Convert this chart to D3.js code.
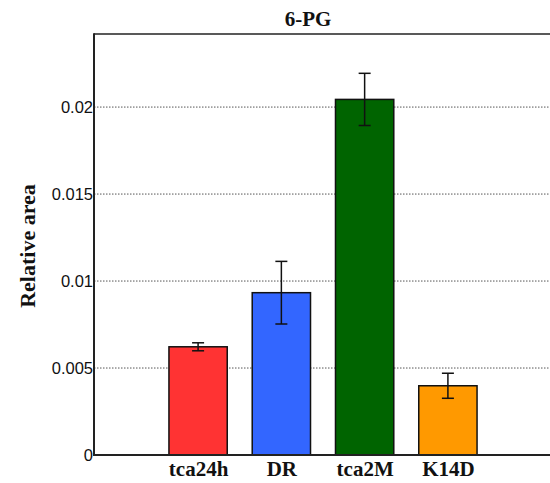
<!DOCTYPE html>
<html><head><meta charset="utf-8">
<script src="https://cdn.jsdelivr.net/npm/d3@7"></script>
<style>body{margin:0;background:#fff}</style>
</head><body>
<svg id="c" width="550" height="483"></svg>
<script>
const categories = ["tca24h", "DR", "tca2M", "K14D"];
const values = [0.00622, 0.00933, 0.02044, 0.00398];
const errors = [0.00023, 0.0018, 0.0015, 0.00072];
const colors = ["#ff3333", "#3366ff", "#006400", "#ff9900"];
const yTicks = [0, 0.005, 0.01, 0.015, 0.02];
const yTickLabels = ["0", "0.005", "0.01", "0.015", "0.02"];

(function () {
const svg = d3.select("#c");
const pL = 94, pR = 552, pT = 34, pB = 455;
const x = d3.scaleLinear().domain([-0.25, 5.25]).range([pL, pR]);
const y = d3.scaleLinear().domain([0, 0.0242]).range([pB, pT]);
const bw = x(0.7) - x(0);

// gridlines
svg.append("g").selectAll("line").data(yTicks.filter(d => d > 0)).join("line")
  .attr("x1", pL).attr("x2", 550).attr("y1", d => y(d)).attr("y2", d => y(d))
  .attr("stroke", "#555").attr("stroke-width", 1).attr("stroke-dasharray", "1.5,1.5");

// bars
svg.append("g").selectAll("rect").data(values).join("rect")
  .attr("x", (d, i) => x(i + 1) - bw / 2).attr("width", bw)
  .attr("y", d => y(d)).attr("height", d => y(0) - y(d))
  .attr("fill", (d, i) => colors[i]).attr("stroke", "#111").attr("stroke-width", 1.5);

// error bars
const eb = svg.append("g").attr("stroke", "#111").attr("stroke-width", 1.5);
values.forEach((v, i) => {
  const cx = x(i + 1);
  eb.append("line").attr("x1", cx).attr("x2", cx).attr("y1", y(v + errors[i])).attr("y2", y(v - errors[i]));
  [v + errors[i], v - errors[i]].forEach(e => {
    eb.append("line").attr("x1", cx - 6).attr("x2", cx + 6).attr("y1", y(e)).attr("y2", y(e));
  });
});

// axes frame
svg.append("line").attr("x1", pL).attr("x2", 550).attr("y1", pT).attr("y2", pT)
  .attr("stroke", "#222").attr("stroke-width", 1.5);
svg.append("line").attr("x1", pL).attr("x2", pL).attr("y1", pT - 0.75).attr("y2", pB + 1)
  .attr("stroke", "#222").attr("stroke-width", 2);
svg.append("line").attr("x1", pL).attr("x2", 550).attr("y1", pB).attr("y2", pB)
  .attr("stroke", "#222").attr("stroke-width", 2);

// y tick labels
const yAxis = d3.axisLeft(y).tickValues(yTicks).tickSize(0).tickPadding(1)
  .tickFormat((d, i) => yTickLabels[i]);
const ya = svg.append("g").attr("transform", `translate(${pL},0)`).call(yAxis);
ya.select(".domain").remove();
ya.selectAll("text").attr("font-family", "Liberation Sans, Arial, sans-serif")
  .attr("font-size", 16.5).attr("fill", "#111");

// x labels
const xAxis = d3.axisBottom(x).tickValues([1, 2, 3, 4]).tickSize(0).tickPadding(6)
  .tickFormat((d, i) => categories[i]);
const xa = svg.append("g").attr("transform", `translate(0,${pB})`).call(xAxis);
xa.select(".domain").remove();
xa.selectAll("text").attr("font-family", "Liberation Serif, Times New Roman, serif")
  .attr("font-weight", "bold").attr("font-size", 21).attr("fill", "#111");

// title
svg.append("text").attr("x", 308).attr("y", 26).attr("text-anchor", "middle")
  .attr("font-family", "Liberation Serif, Times New Roman, serif").attr("font-weight", "bold")
  .attr("font-size", 21).attr("fill", "#111").text("6-PG");

// y label
svg.append("text").attr("transform", "translate(35,246) rotate(-90)").attr("text-anchor", "middle")
  .attr("font-family", "Liberation Serif, Times New Roman, serif").attr("font-weight", "bold")
  .attr("font-size", 22).attr("fill", "#111").text("Relative area");
})();
</script>
</body></html>
